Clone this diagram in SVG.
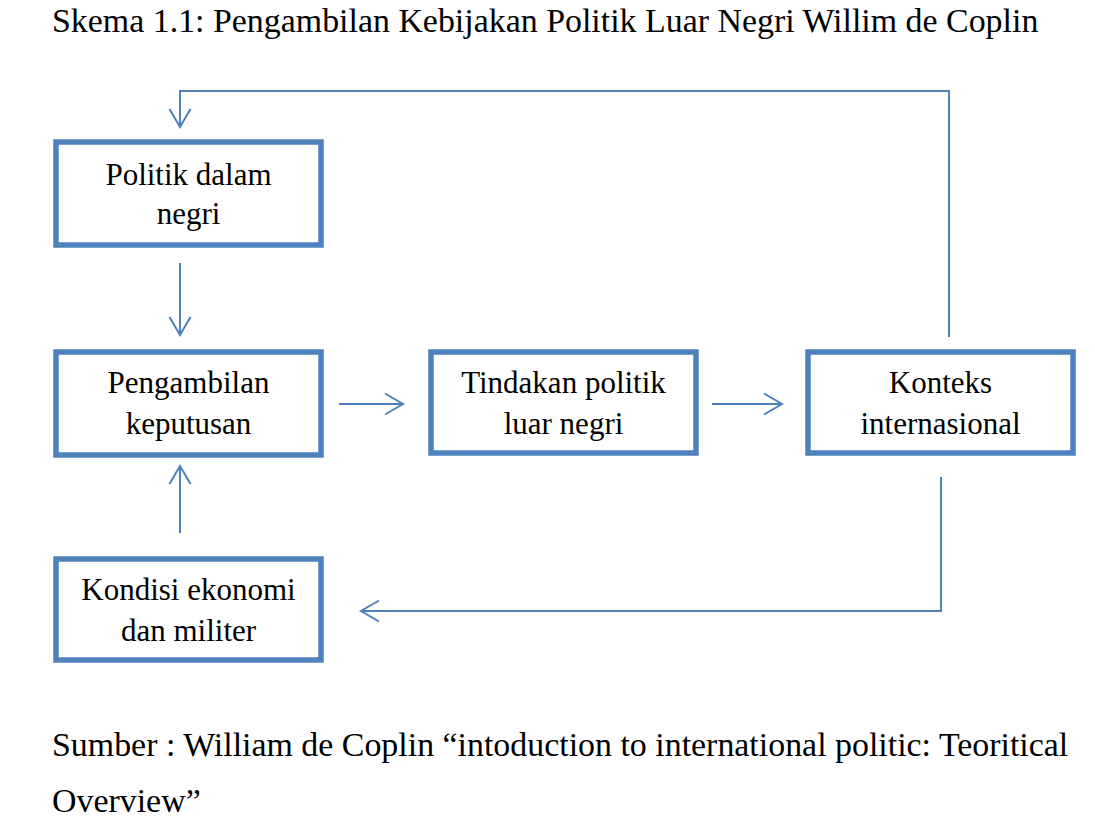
<svg xmlns="http://www.w3.org/2000/svg" width="1095" height="827" viewBox="0 0 1095 827">
<style>
text{font-family:"Liberation Serif","Times New Roman",serif;fill:#000}
.t{font-size:33.9px}
.n{font-size:31px;text-anchor:middle}
.box{fill:#fff;stroke:#4F81BD;stroke-width:5.5}
.c{fill:none;stroke:#4F81BD;stroke-width:2}
</style>
<defs>
<marker id="ah" viewBox="-20 -12 22 24" refX="0" refY="0" markerWidth="22" markerHeight="24" markerUnits="userSpaceOnUse" orient="auto">
<path d="M-18,-10.5 L0,0 L-18,10.5" fill="none" stroke="#4F81BD" stroke-width="2"/>
</marker>
</defs>
<rect width="1095" height="827" fill="#fff"/>
<text class="t" x="52" y="32">Skema 1.1: Pengambilan Kebijakan Politik Luar Negri Willim de Coplin</text>
<g id="connectors">
<path class="c" d="M949,337 V91 H180 V127" marker-end="url(#ah)"/>
<path class="c" d="M180,263 V335" marker-end="url(#ah)"/>
<path class="c" d="M339,404 H403" marker-end="url(#ah)"/>
<path class="c" d="M712,404 H782" marker-end="url(#ah)"/>
<path class="c" d="M180,533 V466" marker-end="url(#ah)"/>
<path class="c" d="M941,477 V611 H361" marker-end="url(#ah)"/>
</g>
<g id="politik">
<rect class="box" x="56" y="142" width="265" height="103"/>
<text class="n" x="188.5" y="185">Politik dalam</text>
<text class="n" x="188.5" y="224">negri</text>
</g>
<g id="pengambilan">
<rect class="box" x="56" y="352" width="265" height="103"/>
<text class="n" x="188.5" y="393">Pengambilan</text>
<text class="n" x="188.5" y="434">keputusan</text>
</g>
<g id="tindakan">
<rect class="box" x="431" y="352" width="265" height="101"/>
<text class="n" x="563.5" y="393">Tindakan politik</text>
<text class="n" x="563.5" y="434">luar negri</text>
</g>
<g id="konteks">
<rect class="box" x="808" y="352" width="265" height="101"/>
<text class="n" x="940.5" y="393">Konteks</text>
<text class="n" x="940.5" y="434">internasional</text>
</g>
<g id="kondisi">
<rect class="box" x="56" y="559" width="265" height="101"/>
<text class="n" x="188.5" y="600">Kondisi ekonomi</text>
<text class="n" x="188.5" y="641">dan militer</text>
</g>
<text class="t" x="52" y="756">Sumber : William de Coplin “intoduction to international politic: Teoritical</text>
<text class="t" x="52" y="812">Overview”</text>
</svg>
